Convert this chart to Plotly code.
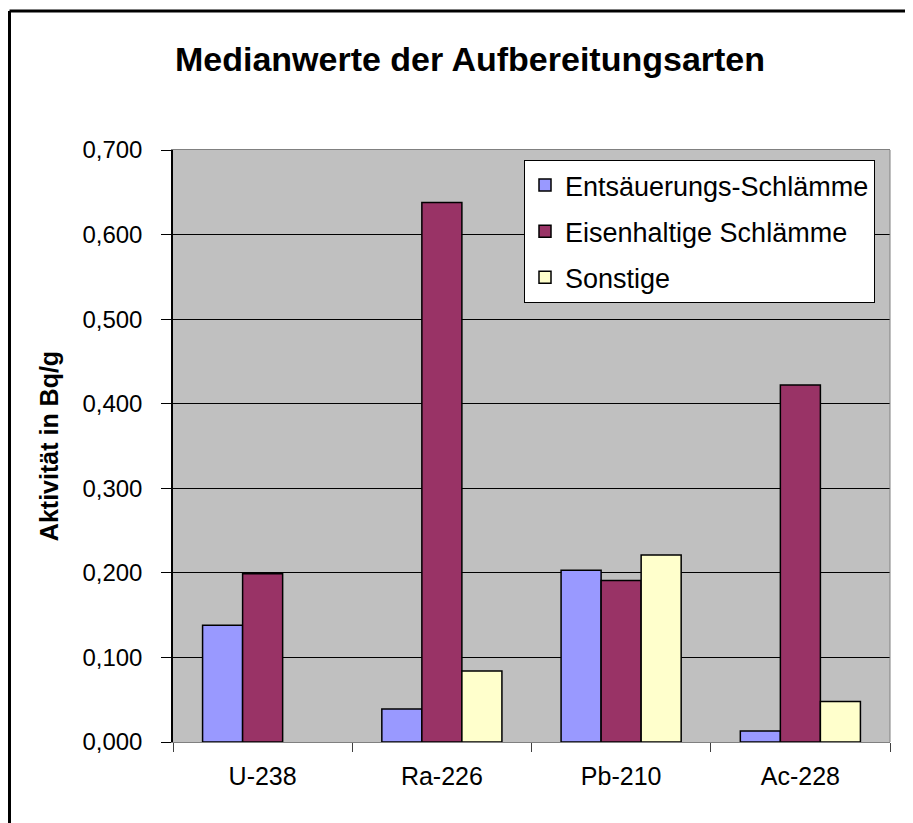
import plotly.graph_objects as go

# data
nuclides = ['U-238', 'Ra-226', 'Pb-210', 'Ac-228']
entsaeuerung = [0.138, 0.039, 0.203, 0.013]
eisenhaltig = [0.199, 0.638, 0.191, 0.422]
sonstige = [None, 0.084, 0.221, 0.048]
y_ticks = [0.0, 0.1, 0.2, 0.3, 0.4, 0.5, 0.6, 0.7]

FONT = 'Liberation Sans, Arial, sans-serif'
SERIES = [
    ('Entsäuerungs-Schlämme', entsaeuerung, '#9999FF'),
    ('Eisenhaltige Schlämme', eisenhaltig, '#993366'),
    ('Sonstige', sonstige, '#FFFFCC'),
]

fig = go.Figure()
for name, vals, color in SERIES:
    fig.add_trace(go.Bar(
        x=nuclides, y=vals, name=name, legendgroup=name,
        marker=dict(color=color, line=dict(color='black', width=1.5)),
    ))

# the page body has an 8px margin, so the figure sits at (8, 8);
# it is made to run to the window edges (overflow hidden below)
OFF = 8
W, H = 913 - OFF, 823 - OFF
L, T = 173 - OFF, 150 - OFF
R, B = W - (890 - OFF), H - (742 - OFF)
pw, ph = W - L - R, H - T - B


def px(x):
    # page x pixel -> paper x
    return (x - OFF - L) / pw


def py(y):
    # page y pixel -> paper y
    return (H - B - (y - OFF)) / ph


fig.update_layout(
    width=W, height=H,
    margin=dict(l=L, r=R, t=T, b=B, autoexpand=False),
    paper_bgcolor='white', plot_bgcolor='#C0C0C0',
    font=dict(family=FONT, color='black', size=24),
    separators=',.',
    barmode='group', bargap=0.33, bargroupgap=0,
    showlegend=True,
    title=dict(text='<b>Medianwerte der Aufbereitungsarten</b>',
               font=dict(size=34), x=(470 - OFF) / W, xanchor='center',
               y=1 - (59 - OFF) / H, yanchor='middle'),
    legend=dict(x=px(524), y=py(160), xanchor='left', yanchor='top',
                bgcolor='white', bordercolor='black', borderwidth=1,
                font=dict(size=27), traceorder='grouped', tracegroupgap=8),
    xaxis=dict(type='category', showgrid=False, ticks='outside',
               tickson='boundaries', ticklen=9, tickcolor='#404040',
               showline=True, linecolor='#808080', linewidth=1, mirror=True,
               tickfont=dict(size=25), ticklabelstandoff=12),
    yaxis=dict(range=[0, 0.7], tickvals=y_ticks, tickformat='.3f',
               showgrid=True, gridcolor='black', gridwidth=1,
               ticks='outside', ticklen=10, tickcolor='black',
               showline=True, linecolor='black', linewidth=1.5,
               zeroline=False, ticklabelstandoff=14,
               title=dict(text='<b>Aktivität in Bq/g</b>',
                          font=dict(size=25), standoff=17)),
    shapes=[
        # right edge of the plot area
        dict(type='line', xref='paper', yref='paper', x0=1, x1=1, y0=0, y1=1,
             line=dict(color='#808080', width=1)),
        # outer chart frame (only top and left edges are inside the picture)
        dict(type='line', xref='paper', yref='paper', x0=px(9.5), x1=px(940),
             y0=py(11), y1=py(11), line=dict(color='black', width=3)),
        dict(type='line', xref='paper', yref='paper', x0=px(9.5), x1=px(9.5),
             y0=py(11), y1=py(850), line=dict(color='black', width=3)),
    ],
)

fig.write_html(
    'out.html',
    post_script="document.documentElement.style.overflow='hidden';"
                "document.body.style.overflow='hidden';",
)
